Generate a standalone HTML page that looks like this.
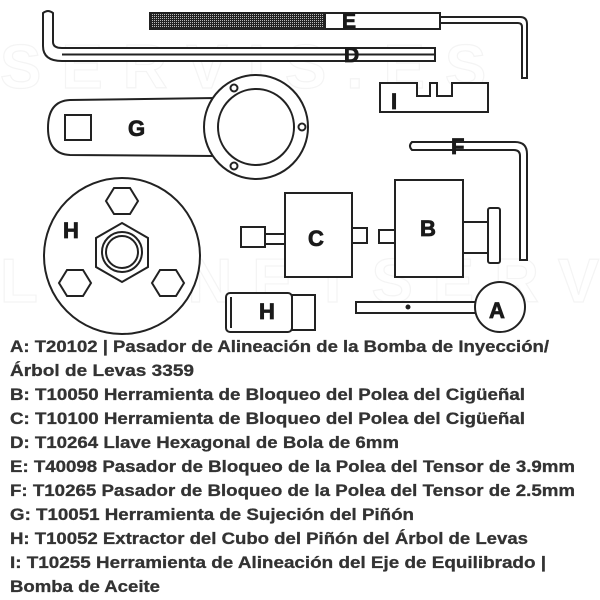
<!DOCTYPE html>
<html><head><meta charset="utf-8"><style>
html,body{margin:0;padding:0;background:#fff;}
svg{display:block;}
text{font-family:"Liberation Sans",sans-serif;font-weight:bold;}
</style></head><body>
<svg width="600" height="600" viewBox="0 0 600 600" xmlns="http://www.w3.org/2000/svg">
<defs>
<pattern id="kn" width="2" height="2" patternUnits="userSpaceOnUse"><rect width="2" height="2" fill="#222"/><rect width="1" height="1" fill="#bbb"/></pattern>
</defs>
<g fill="none" stroke="#f4f4f4" stroke-width="1.2" font-size="62" font-family="Liberation Sans">
<text x="0" y="88" fill="none" letter-spacing="20">SERVIS.ES</text>
<text x="0" y="302" fill="none" letter-spacing="20">LEONETSERVIS</text>
</g>
<g fill="#fff" stroke="#222" stroke-width="2">
<!-- E -->
<rect x="150" y="13" width="175" height="16" fill="url(#kn)"/>
<rect x="325" y="13" width="115" height="16"/>
<path d="M440 17 H520 Q527 17 527 24 V78 H522 V27 Q522 23 518 23 H440 Z"/>
<!-- D -->
<path d="M43 13 Q48 9 53 13 V42 Q53 48 62 48 H435 V61 H62 Q43 61 43 46 Z"/>
<line x1="62" y1="54.5" x2="435" y2="54.5"/>
<!-- I -->
<path d="M380 83 H417 V96 H430 V83 H437 V96 H452 V83 H488 V112 H380 Z"/>
<!-- G -->
<path d="M70 100 L215 98 L215 156 L70 155 Q48 154 48 128 Q48 101 70 100 Z"/>
<rect x="65" y="115" width="26" height="25"/>
<circle cx="256" cy="127" r="52"/>
<circle cx="256" cy="127" r="38"/>
<circle cx="234" cy="88" r="3.5"/>
<circle cx="302" cy="127" r="3.5"/>
<circle cx="234" cy="166" r="3.5"/>
<!-- F -->
<path d="M412 142 H515 Q527 142 527 154 V260 H520 V156 Q520 150 514 150 H412 Q408 146 412 142 Z"/>
<!-- H big -->
<circle cx="122" cy="256" r="78"/>
<polygon points="114,188 130,188 138,201 130,214 114,214 106,201"/>
<polygon points="67,270 83,270 91,283 83,296 67,296 59,283"/>
<polygon points="160,270 176,270 184,283 176,296 160,296 152,283"/>
<polygon points="122,223 148,238 148,267 122,282 96,267 96,238"/>
<circle cx="122" cy="252" r="20"/>
<circle cx="122" cy="252" r="16"/>
<!-- C -->
<rect x="241" y="227" width="24" height="20"/>
<rect x="265" y="234" width="20" height="10"/>
<rect x="285" y="193" width="67" height="84"/>
<rect x="352" y="228" width="15" height="15"/>
<!-- B -->
<rect x="379" y="230" width="16" height="13"/>
<rect x="395" y="180" width="68" height="97"/>
<rect x="463" y="222" width="25" height="31"/>
<rect x="488" y="208" width="12" height="55" rx="2"/>
<!-- H small -->
<rect x="226" y="293" width="66" height="39" rx="4"/>
<rect x="292" y="295" width="23" height="35"/>
<line x1="231" y1="297" x2="231" y2="328"/>
<!-- A -->
<rect x="356" y="302" width="121" height="11"/>
<circle cx="500" cy="307" r="25"/>
<circle cx="408" cy="307" r="1.5" fill="#222"/>
</g>
<g fill="#1a1a1a" font-size="22" stroke="#1a1a1a" stroke-width="0.8">
<text x="342" y="28" font-size="21">E</text>
<text x="344" y="62" font-size="21">D</text>
<text x="391" y="109">I</text>
<text x="128" y="136">G</text>
<text x="451" y="154">F</text>
<text x="63" y="238">H</text>
<text x="308" y="246">C</text>
<text x="420" y="236">B</text>
<text x="259" y="319">H</text>
<text x="489" y="318">A</text>
</g>
<g fill="#333" font-size="16.5" stroke="#333" stroke-width="0.3">
<text x="10" y="352" textLength="539" lengthAdjust="spacingAndGlyphs">A: T20102 | Pasador de Alineación de la Bomba de Inyección/</text>
<text x="10" y="376" textLength="184" lengthAdjust="spacingAndGlyphs">Árbol de Levas 3359</text>
<text x="10" y="400" textLength="515" lengthAdjust="spacingAndGlyphs">B: T10050 Herramienta de Bloqueo del Polea del Cigüeñal</text>
<text x="10" y="424" textLength="515" lengthAdjust="spacingAndGlyphs">C: T10100 Herramienta de Bloqueo del Polea del Cigüeñal</text>
<text x="10" y="448" textLength="389" lengthAdjust="spacingAndGlyphs">D: T10264 Llave Hexagonal de Bola de 6mm</text>
<text x="10" y="472" textLength="565" lengthAdjust="spacingAndGlyphs">E: T40098 Pasador de Bloqueo de la Polea del Tensor de 3.9mm</text>
<text x="10" y="496" textLength="565" lengthAdjust="spacingAndGlyphs">F: T10265 Pasador de Bloqueo de la Polea del Tensor de 2.5mm</text>
<text x="10" y="520" textLength="404" lengthAdjust="spacingAndGlyphs">G: T10051 Herramienta de Sujeción del Piñón</text>
<text x="10" y="544" textLength="518" lengthAdjust="spacingAndGlyphs">H: T10052 Extractor del Cubo del Piñón del Árbol de Levas</text>
<text x="10" y="568" textLength="536" lengthAdjust="spacingAndGlyphs">I: T10255 Herramienta de Alineación del Eje de Equilibrado |</text>
<text x="10" y="592" textLength="150" lengthAdjust="spacingAndGlyphs">Bomba de Aceite</text>
</g>
</svg>
</body></html>
